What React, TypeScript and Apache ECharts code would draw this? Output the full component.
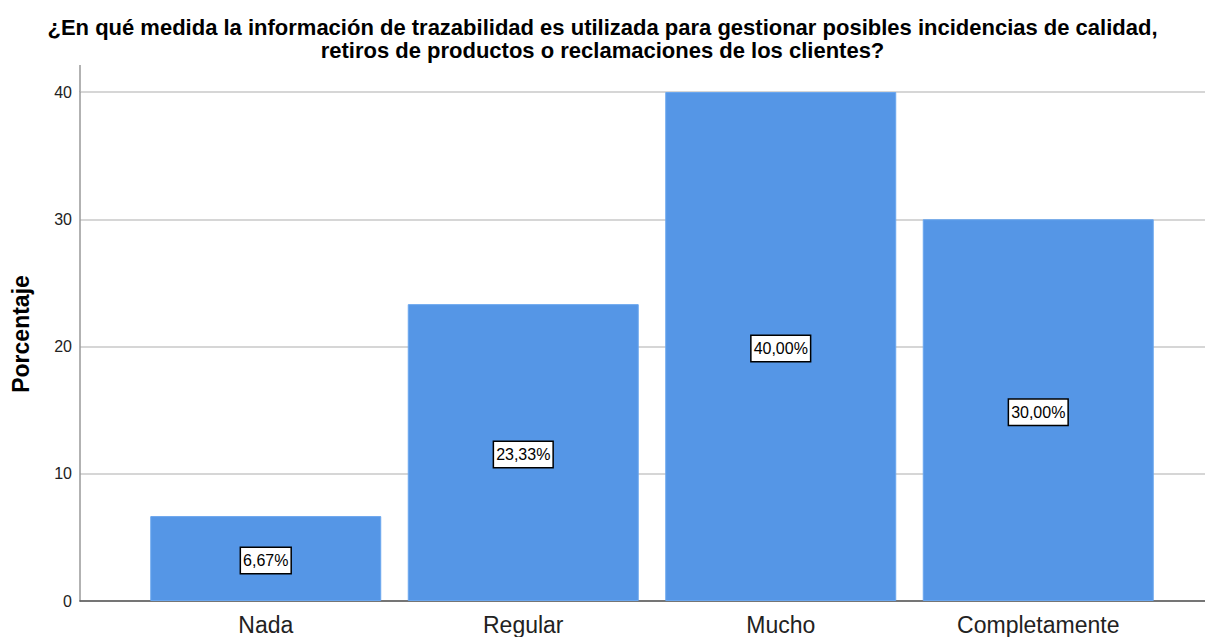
import React, { useEffect, useRef } from "react";
import * as echarts from "echarts";

const categories = ["Nada", "Regular", "Mucho", "Completamente"];
const values = [6.67, 23.33, 40.0, 30.0];
const yTicks = [0, 10, 20, 30, 40];
const titleText =
  "¿En qué medida la información de trazabilidad es utilizada para gestionar posibles incidencias de calidad,\nretiros de productos o reclamaciones de los clientes?";
const yAxisName = "Porcentaje";

export default function App() {
  const ref = useRef<HTMLDivElement>(null);
  useEffect(() => {
    if (!ref.current) return;
    const chart = echarts.init(ref.current, undefined, { renderer: "svg" });
    const font = "Liberation Sans, Arial, sans-serif";
    chart.setOption({
      animation: false,
      title: {
        text: titleText,
        left: "center",
        top: 11,
        textStyle: {
          fontFamily: font,
          fontSize: 22,
          fontWeight: "bold",
          color: "#000",
          lineHeight: 23,
          align: "center",
        },
      },
      grid: [
        { left: 80, right: 0, top: 92, bottom: 36 },
        { left: 137, right: 38, top: 92, bottom: 36 },
      ],
      xAxis: [
        {
          gridIndex: 0,
          type: "value",
          min: 0,
          max: 1,
          axisLine: { show: true, onZero: false, lineStyle: { color: "#555", width: 1.5 } },
          axisTick: { show: false },
          axisLabel: { show: false },
          splitLine: { show: false },
        },
        {
          gridIndex: 1,
          type: "category",
          data: categories,
          axisLine: { show: false },
          axisTick: { show: false },
          axisLabel: {
            fontFamily: font,
            fontSize: 23,
            color: "#222",
            margin: 12,
          },
        },
      ],
      yAxis: [
        {
          gridIndex: 0,
          type: "value",
          min: yTicks[0],
          max: yTicks[yTicks.length - 1],
          interval: 10,
          axisLine: { show: true, lineStyle: { color: "#999", width: 1.5 } },
          axisTick: { show: false },
          axisLabel: { fontFamily: font, fontSize: 16, color: "#222", margin: 8 },
          splitLine: { show: true, lineStyle: { color: "#c8c8c8", width: 1.5 } },
        },
        {
          gridIndex: 1,
          type: "value",
          min: yTicks[0],
          max: yTicks[yTicks.length - 1],
          show: false,
          splitLine: { show: false },
        },
      ],
      series: [
        {
          type: "bar",
          xAxisIndex: 1,
          yAxisIndex: 1,
          data: values,
          barCategoryGap: "10.3%",
          itemStyle: { color: "#5596e6", borderColor: "#6aa6ee", borderWidth: 1 },
          label: {
            show: true,
            position: "inside",
            offset: [0, 2],
            formatter: (p: any) => p.value.toFixed(2).replace(".", ",") + "%",
            fontFamily: font,
            fontSize: 16,
            color: "#000",
            backgroundColor: "#fff",
            borderColor: "#000",
            borderWidth: 1.5,
            padding: [5, 2, 4, 2],
          },
        },
      ],
      graphic: [
        {
          type: "line",
          shape: { x1: 80, y1: 65, x2: 80, y2: 92 },
          style: { stroke: "#999", lineWidth: 1.5 },
        },
        {
          type: "text",
          x: 21,
          y: 334,
          rotation: Math.PI / 2,
          style: {
            text: yAxisName,
            fontFamily: font,
            fontSize: 23,
            fontWeight: "bold",
            fill: "#000",
            align: "center",
            verticalAlign: "middle",
          },
        },
      ],
    });
    return () => chart.dispose();
  }, []);
  return <div ref={ref} style={{ width: 1205, height: 637, position: "absolute", left: 0, top: 0 }} />;
}
